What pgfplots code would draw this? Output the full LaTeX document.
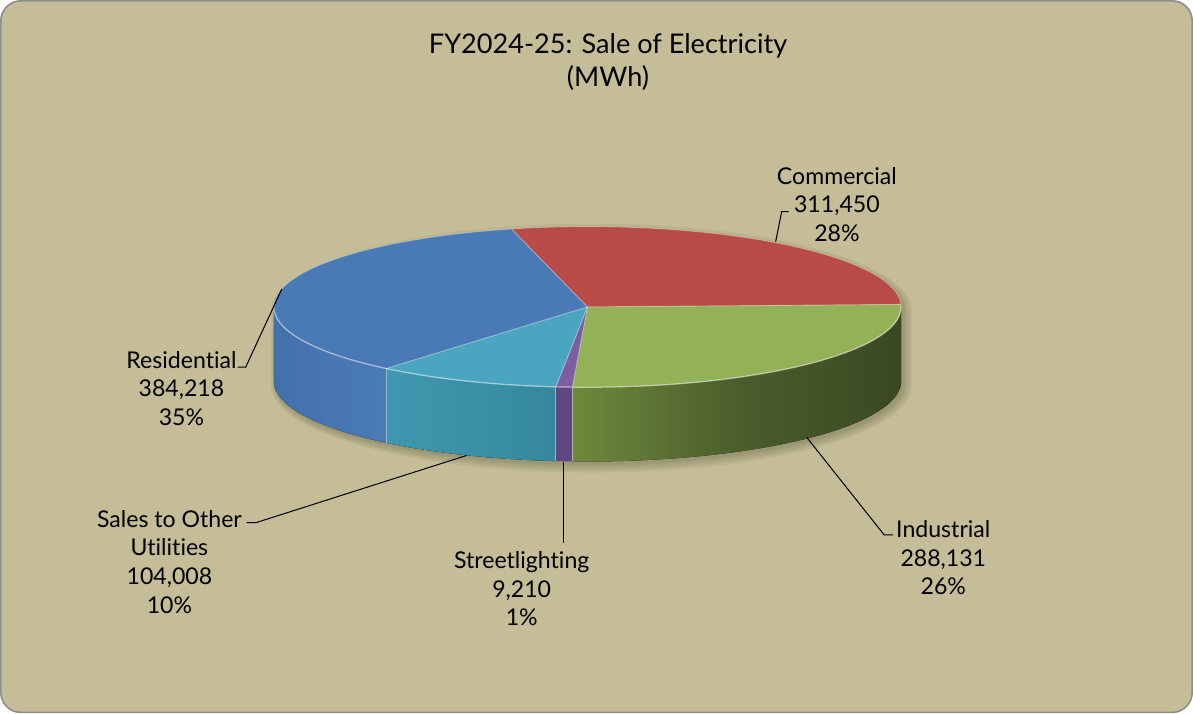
\documentclass[border=0pt]{standalone}
\usepackage{pgfplots}
\pgfplotsset{compat=1.18}
\usepackage{pgfplotstable}
\usepackage{fontspec}
\setmainfont{Lato}[Ligatures={NoCommon,NoRare,NoDiscretionary}]

\definecolor{bg}{HTML}{C4BD97}
\definecolor{frame}{HTML}{8E8E8E}
\definecolor{resT}{HTML}{4A7AB6}
\definecolor{resSL}{HTML}{4470AA}
\definecolor{resSR}{HTML}{4B7CB8}
\definecolor{comT}{HTML}{B84B48}
\definecolor{indT}{HTML}{93B157}
\definecolor{indSL}{HTML}{6E893B}
\definecolor{indSM}{HTML}{4B5E2C}
\definecolor{indSR}{HTML}{3A4822}
\definecolor{salT}{HTML}{4AA6C0}
\definecolor{salSL}{HTML}{3F98B0}
\definecolor{salSR}{HTML}{35889C}
\definecolor{strT}{HTML}{7B5DA0}
\definecolor{strS}{HTML}{5E4881}
\definecolor{shad}{HTML}{5E5A40}

% sales in MWh, clockwise from the top
\pgfplotstableread{
name value
Commercial 311450
Industrial 288131
Streetlighting 9210
Sales 104008
Residential 384218
}\piedata

\pgfplotstablegetelem{0}{value}\of\piedata \edef\vCom{\pgfplotsretval}
\pgfplotstablegetelem{1}{value}\of\piedata \edef\vInd{\pgfplotsretval}
\pgfplotstablegetelem{2}{value}\of\piedata \edef\vStr{\pgfplotsretval}
\pgfplotstablegetelem{3}{value}\of\piedata \edef\vSal{\pgfplotsretval}
\pgfplotstablegetelem{4}{value}\of\piedata \edef\vRes{\pgfplotsretval}
\edef\tot{\fpeval{\vCom+\vInd+\vStr+\vSal+\vRes}}
\def\aS{104}
\edef\aA{\fpeval{round(\aS-360*\vCom/\tot,4)}}
\edef\aB{\fpeval{round(\aA-360*\vInd/\tot,4)}}
\edef\aC{\fpeval{round(\aB-360*\vStr/\tot,4)}}
\edef\aD{\fpeval{round(\aC-360*\vSal/\tot,4)}}
\edef\aE{\fpeval{\aS-360}}

\def\cx{587.5}
\def\cy{407}
\def\rx{312.5}
\def\ry{80}
\def\dep{74}

\newcommand\topslice[3]{%
  \fill[#3] (axis cs:\cx,\cy) -- (axis cs:{\cx+\rx*cos(#1)},{\cy+\ry*sin(#1)})
    arc[start angle=#1,end angle=#2,x radius=\rx pt,y radius=\ry pt] -- cycle;}
\newcommand\side[3]{%
  \fill[#3] (axis cs:{\cx+\rx*cos(#1)},{\cy+\ry*sin(#1)})
    arc[start angle=#1,end angle=#2,x radius=\rx pt,y radius=\ry pt]
    -- (axis cs:{\cx+\rx*cos(#2)},{\cy-\dep+\ry*sin(#2)})
    arc[start angle=#2,end angle=#1,x radius=\rx pt,y radius=\ry pt] -- cycle;}
\newcommand\sideedge[1]{%
  \draw[white,opacity=0.45,line width=1pt] (axis cs:{\cx+\rx*cos(#1)},{\cy+\ry*sin(#1)})
    -- (axis cs:{\cx+\rx*cos(#1)},{\cy-\dep+\ry*sin(#1)});}
\newcommand\radial[1]{%
  \draw[white,opacity=0.4,line width=0.9pt] (axis cs:\cx,\cy) -- (axis cs:{\cx+\rx*cos(#1)},{\cy+\ry*sin(#1)});}
\newcommand\shadowlayer[3]{% dx dy grow
  \fill[shad,opacity=0.09] (axis cs:{\cx+#1+\rx+#3},{\cy+#2})
    arc[start angle=0,end angle=180,x radius=\rx pt+#3pt,y radius=\ry pt+#3pt]
    -- (axis cs:{\cx+#1-\rx-#3},{\cy+#2-\dep})
    arc[start angle=180,end angle=360,x radius=\rx pt+#3pt,y radius=\ry pt+#3pt] -- cycle;}

\newcommand\lbl{\fontsize{23}{28.5}\selectfont}

\begin{document}
\begin{tikzpicture}
\begin{axis}[x=1pt,y=1pt,xmin=0,xmax=1193,ymin=0,ymax=715,
  hide axis,clip=false,axis line style={draw=none}]
  % background
  \fill[bg,draw=frame,line width=1.6pt,rounded corners=20pt] (axis cs:3,3) rectangle (axis cs:1190,712);
  % soft shadow
  \shadowlayer{4}{-4}{7}
  \shadowlayer{4}{-4}{5}
  \shadowlayer{3}{-4}{3}
  \shadowlayer{3}{-3}{1.5}
  \shadowlayer{2}{-3}{0}
  % side walls
  \side{0}{\aB}{left color=indSL,right color=indSR,middle color=indSM}
  \side{\aB}{\aC}{strS}
  \side{\aC}{\aD}{left color=salSL,right color=salSR}
  \side{\aD}{-180}{left color=resSL,right color=resSR}
  \sideedge{\aB}\sideedge{\aC}\sideedge{\aD}
  % top faces
  \topslice{\aS}{\aA}{comT}
  \topslice{\aA}{\aB}{indT}
  \topslice{\aB}{\aC}{strT}
  \topslice{\aC}{\aD}{salT}
  \topslice{\aD}{\aE}{resT}
  \radial{\aS}\radial{\aA}\radial{\aB}\radial{\aC}\radial{\aD}
  \draw[white,opacity=0.3,line width=0.9pt] (axis cs:{\cx+\rx},\cy)
    arc[start angle=0,end angle=180,x radius=\rx pt,y radius=\ry pt];
  \draw[white,opacity=0.55,line width=1.2pt] (axis cs:{\cx+\rx},\cy)
    arc[start angle=0,end angle=-180,x radius=\rx pt,y radius=\ry pt];
  % leader lines
  \draw[black,line width=1pt] (axis cs:788,502) -- (axis cs:781,502) -- (axis cs:775,472);
  \draw[black,line width=1pt] (axis cs:239,347) -- (axis cs:247,347) -- (axis cs:283,425);
  \draw[black,line width=1pt] (axis cs:248,192) -- (axis cs:257,192) -- (axis cs:467,259);
  \draw[black,line width=1pt] (axis cs:564,172) -- (axis cs:564,253);
  \draw[black,line width=1pt] (axis cs:892,180) -- (axis cs:883,180) -- (axis cs:806,277);
  % labels
  \node[align=center,font=\lbl,inner sep=0pt] at (axis cs:836,509) {Commercial\\311,450\\28\%};
  \node[align=center,font=\lbl,inner sep=0pt] at (axis cs:183,326) {Residential\\384,218\\35\%};
  \node[align=center,font=\lbl,inner sep=0pt] at (axis cs:171,153) {Sales to Other\\Utilities\\104,008\\10\%};
  \node[align=center,font=\lbl,inner sep=0pt] at (axis cs:522,126) {Streetlighting\\9,210\\1\%};
  \node[align=center,font=\lbl,inner sep=0pt] at (axis cs:942,157) {Industrial\\288,131\\26\%};
  % title
  \node[align=center,font=\fontsize{27}{32}\selectfont,inner sep=0pt] at (axis cs:608,651) {FY2024-25: Sale of Electricity\\(MWh)};
\end{axis}
\end{tikzpicture}
\end{document}
